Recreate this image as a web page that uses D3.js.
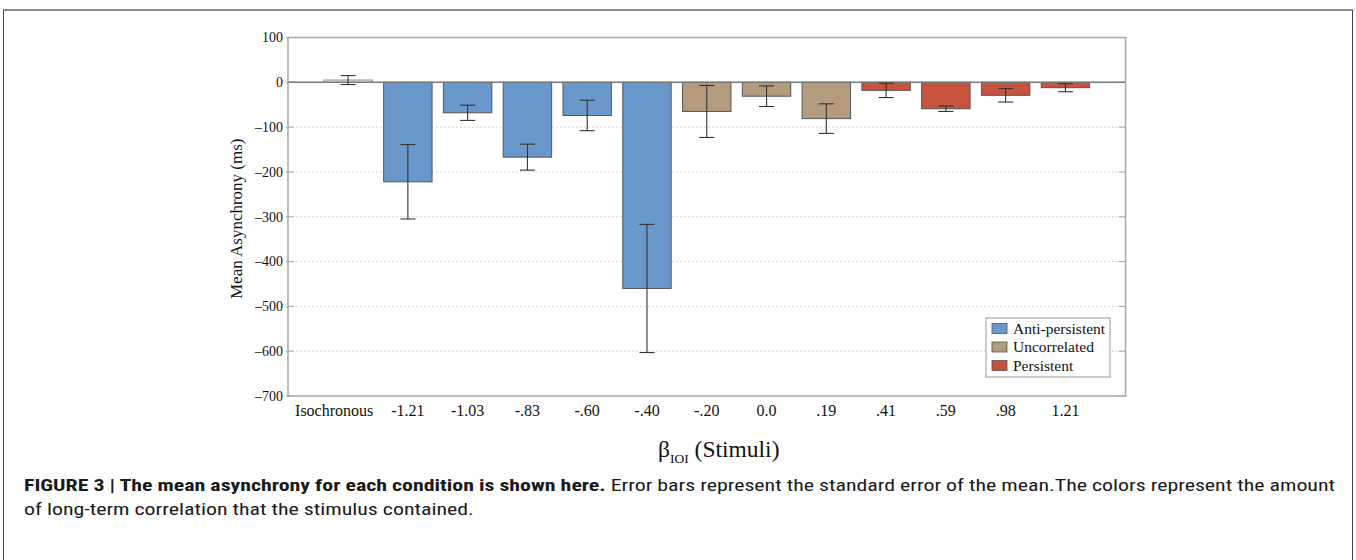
<!DOCTYPE html>
<html>
<head>
<meta charset="utf-8">
<script src="https://cdn.jsdelivr.net/npm/d3@7"></script>
<style>
  html, body { margin: 0; padding: 0; background: #fff; }
  svg { display: block; }
</style>
</head>
<body>
<svg id="chart" width="1356" height="560"></svg>
<script>
// ---- data ----
const categories = ["Isochronous", "-1.21", "-1.03", "-.83", "-.60", "-.40", "-.20", "0.0", ".19", ".41", ".59", ".98", "1.21"];
const meanAsynchrony = [5, -222, -68, -167, -74, -460, -65, -31, -81, -18, -59, -29, -12];
const stdError = [10, 83, 17, 29, 34, 143, 58, 23, 33, 16, 6, 15, 9];
const groups = ["Isochronous", "Anti-persistent", "Anti-persistent", "Anti-persistent", "Anti-persistent", "Anti-persistent",
                "Uncorrelated", "Uncorrelated", "Uncorrelated", "Persistent", "Persistent", "Persistent", "Persistent"];
const legendLabels = ["Anti-persistent", "Uncorrelated", "Persistent"];
const yTicks = [100, 0, -100, -200, -300, -400, -500, -600, -700];

const colorOf = {
  "Isochronous": "#ffffff",
  "Anti-persistent": "#6b98cb",
  "Uncorrelated": "#b39b7e",
  "Persistent": "#c8533f"
};

(function () {
const data = categories.map((c, i) => ({ cat: c, v: meanAsynchrony[i], se: stdError[i], g: groups[i] }));

const svg = d3.select("#chart");
const serif = "'Liberation Serif', 'Times New Roman', Times, serif";

// frame
svg.append("rect").attr("width", 1356).attr("height", 560).attr("fill", "#fff");
svg.append("line").attr("x1", 3).attr("x2", 1353).attr("y1", 10).attr("y2", 10)
  .attr("stroke", "#8a8a8a").attr("stroke-width", 2);
svg.append("line").attr("x1", 3.5).attr("x2", 3.5).attr("y1", 10).attr("y2", 560)
  .attr("stroke", "#444").attr("stroke-width", 1);
svg.append("line").attr("x1", 1352.5).attr("x2", 1352.5).attr("y1", 10).attr("y2", 560)
  .attr("stroke", "#444").attr("stroke-width", 1);

// plot area
const pL = 288, pR = 1125.5, pT = 37.5, pB = 396;
const x = d3.scaleBand().domain(categories).range([pL, pR]).paddingInner(0.19).paddingOuter(0.6);
const y = d3.scaleLinear().domain([-700, 100]).range([pB, pT]);

// grid lines (dotted)
svg.append("g").selectAll("line").data(yTicks.filter(t => t !== 100 && t !== 0 && t !== -700)).join("line")
  .attr("x1", pL).attr("x2", pR)
  .attr("y1", d => y(d)).attr("y2", d => y(d))
  .attr("stroke", "#c8c8c8").attr("stroke-width", 1).attr("stroke-dasharray", "1.5,2.5");

// tick marks
const tg = svg.append("g");
tg.selectAll("line.l").data(yTicks).join("line").attr("class", "l")
  .attr("x1", pL - 2).attr("x2", pL + 6).attr("y1", d => y(d)).attr("y2", d => y(d))
  .attr("stroke", "#aaa").attr("stroke-width", 1);
tg.selectAll("line.r").data(yTicks).join("line").attr("class", "r")
  .attr("x1", pR - 7).attr("x2", pR).attr("y1", d => y(d)).attr("y2", d => y(d))
  .attr("stroke", "#aaa").attr("stroke-width", 1);

// y tick labels
svg.append("g").selectAll("text").data(yTicks).join("text")
  .attr("x", pL - 5).attr("y", d => y(d)).attr("dy", "0.35em")
  .attr("text-anchor", "end")
  .attr("font-family", serif).attr("font-size", 14).attr("fill", "#111")
  .text(d => d < 0 ? "\u2013" + Math.abs(d) : String(d));

// bars
svg.append("g").selectAll("rect").data(data).join("rect")
  .attr("x", d => x(d.cat))
  .attr("width", x.bandwidth())
  .attr("y", d => y(Math.max(0, d.v)))
  .attr("height", d => Math.abs(y(d.v) - y(0)))
  .attr("fill", d => colorOf[d.g])
  .attr("stroke", d => d.g === "Isochronous" ? "#888" : "#555")
  .attr("stroke-width", 1);

// zero line
svg.append("line").attr("x1", pL).attr("x2", pR).attr("y1", y(0)).attr("y2", y(0))
  .attr("stroke", "#777").attr("stroke-width", 1.5);

// error bars
const eg = svg.append("g").attr("stroke", "#333").attr("stroke-width", 1.1);
const cap = 7.5;
data.forEach(d => {
  const cx = x(d.cat) + x.bandwidth() / 2;
  eg.append("line").attr("x1", cx).attr("x2", cx).attr("y1", y(d.v + d.se)).attr("y2", y(d.v - d.se));
  eg.append("line").attr("x1", cx - cap).attr("x2", cx + cap).attr("y1", y(d.v + d.se)).attr("y2", y(d.v + d.se));
  eg.append("line").attr("x1", cx - cap).attr("x2", cx + cap).attr("y1", y(d.v - d.se)).attr("y2", y(d.v - d.se));
});

// plot border
svg.append("rect").attr("x", pL).attr("y", pT).attr("width", pR - pL).attr("height", pB - pT)
  .attr("fill", "none").attr("stroke", "#a8a8a8").attr("stroke-width", 1.5);

// x tick labels
svg.append("g").selectAll("text").data(categories).join("text")
  .attr("x", d => d === "Isochronous" ? x(d) + x.bandwidth() + 1 : x(d) + x.bandwidth() / 2)
  .attr("y", 416)
  .attr("text-anchor", d => d === "Isochronous" ? "end" : "middle")
  .attr("font-family", serif).attr("font-size", 16).attr("fill", "#111")
  .text(d => d);

// y axis title
svg.append("text")
  .attr("transform", `translate(242, ${(pT + pB) / 2 + 2}) rotate(-90)`)
  .attr("text-anchor", "middle")
  .attr("font-family", serif).attr("font-size", 17).attr("fill", "#111")
  .text("Mean Asynchrony (ms)");

// x axis title
const xt = svg.append("text")
  .attr("x", (pL + pR) / 2 + 12).attr("y", 457)
  .attr("text-anchor", "middle")
  .attr("font-family", serif).attr("font-size", 23.5).attr("fill", "#111");
xt.append("tspan").text("\u03B2");
xt.append("tspan").attr("font-size", 13.5).attr("dy", 6).text("IOI");
xt.append("tspan").attr("dy", -6).text(" (Stimuli)");

// legend
const lg = svg.append("g").attr("transform", "translate(986,318)");
lg.append("rect").attr("width", 124).attr("height", 59).attr("fill", "#fff")
  .attr("stroke", "#999").attr("stroke-width", 1);
legendLabels.forEach((l, i) => {
  const row = lg.append("g").attr("transform", `translate(6, ${10.5 + i * 18.5})`);
  row.append("rect").attr("x", 0).attr("y", -5).attr("width", 15).attr("height", 10)
    .attr("fill", colorOf[l]).attr("stroke", "#555").attr("stroke-width", 0.8);
  row.append("text").attr("x", 21).attr("y", 0).attr("dy", "0.35em")
    .attr("font-family", serif).attr("font-size", 15.5).attr("fill", "#111").text(l);
});

// caption
const capFont = "'Liberation Sans Narrow', 'Roboto Condensed', 'Liberation Sans', Arial, sans-serif";
const c1 = svg.append("text").attr("x", 24).attr("y", 491)
  .attr("font-family", capFont).attr("font-size", 17).attr("fill", "#1a1a1a");
c1.append("tspan").attr("font-weight", "bold").text("FIGURE 3 | The mean asynchrony for each condition is shown here.");
c1.append("tspan").text(" Error bars represent the standard error of the mean.The colors represent the amount");
const c2 = svg.append("text").attr("x", 24).attr("y", 515)
  .attr("font-family", capFont).attr("font-size", 17).attr("fill", "#1a1a1a")
  .text("of long-term correlation that the stimulus contained.");
const w1 = c1.node().getComputedTextLength();
const target = 1311;
const k = target / w1;
c1.attr("textLength", target).attr("lengthAdjust", "spacingAndGlyphs");
const w2 = c2.node().getComputedTextLength();
c2.attr("textLength", w2 * k).attr("lengthAdjust", "spacingAndGlyphs");
})();
</script>
</body>
</html>
